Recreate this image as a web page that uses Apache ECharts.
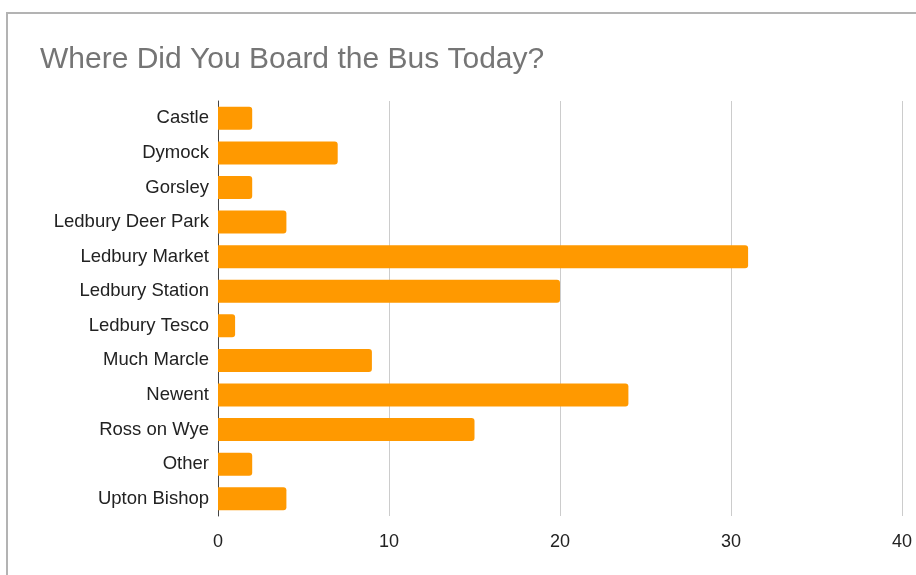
<!DOCTYPE html>
<html>
<head>
<meta charset="utf-8">
<script src="https://cdn.jsdelivr.net/npm/echarts@6/dist/echarts.min.js"></script>
<style>
html,body{margin:0;padding:0;background:#fff;}
#chart{width:916px;height:575px;}
</style>
</head>
<body>
<div id="chart"></div>
<script>
var categories = ["Castle","Dymock","Gorsley","Ledbury Deer Park","Ledbury Market","Ledbury Station","Ledbury Tesco","Much Marcle","Newent","Ross on Wye","Other","Upton Bishop"];
var values = [2,7,2,4,31,20,1,9,24,15,2,4];
var xTicks = [0,10,20,30,40];

var chart = echarts.init(document.getElementById('chart'), null, {renderer:'canvas'});
chart.setOption({
  animation:false,
  backgroundColor:'#ffffff',
  textStyle:{fontFamily:'Arial, "Liberation Sans", sans-serif'},
  title:{
    text:'Where Did You Board the Bus Today?',
    left:35, top:40,
    textStyle:{fontSize:30, fontWeight:'normal', color:'#757575', fontFamily:'Arial, "Liberation Sans", sans-serif'}
  },
  graphic:[{
    type:'rect', shape:{x:7, y:13, width:1000, height:1000},
    style:{fill:'none', stroke:'#b3b3b3', lineWidth:2}, silent:true
  }],
  grid:{left:218, right:14, top:101, bottom:59, containLabel:false},
  xAxis:{
    type:'value', min:xTicks[0], max:xTicks[xTicks.length-1], interval:10,
    axisLine:{show:false}, axisTick:{show:false},
    splitLine:{lineStyle:{color:'#cccccc', width:1}},
    axisLabel:{fontSize:18, color:'#222222', margin:17, fontFamily:'Arial, "Liberation Sans", sans-serif'}
  },
  yAxis:{
    type:'category', data:categories, inverse:true,
    axisLine:{show:true, lineStyle:{color:'#444444', width:1}},
    axisTick:{show:false},
    axisLabel:{fontSize:18.5, color:'#222222', margin:9, fontFamily:'Arial, "Liberation Sans", sans-serif'}
  },
  series:[{
    type:'bar', data:values, barWidth:23,
    itemStyle:{color:'#ff9900', borderRadius:[0,3,3,0]}
  }]
});
</script>
</body>
</html>
